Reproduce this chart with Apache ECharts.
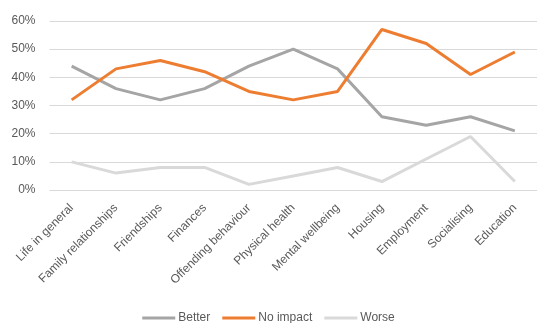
<!DOCTYPE html>
<html><head><meta charset="utf-8">
<script src="https://cdn.jsdelivr.net/npm/echarts@6/dist/echarts.min.js"></script>
<style>html,body{margin:0;padding:0;background:#fff}#c{width:537px;height:323px}</style>
</head><body><div id="c"></div>
<script>
const categories = ["Life in general","Family relationships","Friendships","Finances","Offending behaviour","Physical health","Mental wellbeing","Housing","Employment","Socialising","Education"];
const better   = [44,36,32,36,44,50,43,26,23,26,21];
const noImpact = [32,43,46,42,35,32,35,57,52,41,49];
const worse    = [10,6,8,8,2,5,8,3,11,19,3];
const yTicks = [0,10,20,30,40,50,60];

const font = "'Liberation Sans', 'Open Sans', sans-serif";
const chart = echarts.init(document.getElementById('c'));
chart.setOption({
  animation:false,
  grid:{left:49.5, right:-7.5, top:21, bottom:133},
  legend:{
    bottom:-6, left:'center',
    icon:'rect', itemWidth:33, itemHeight:3, itemGap:12,
    textStyle:{color:'#595959', fontSize:12, fontFamily:font, padding:[0,0,0,-2]},
    data:['Better','No impact','Worse']
  },
  xAxis:{
    type:'category', data:categories, boundaryGap:true,
    axisLine:{show:false}, axisTick:{show:false},
    axisLabel:{rotate:45, color:'#595959', fontSize:12, fontFamily:font, margin:16, interval:0}
  },
  yAxis:{
    type:'value', min:yTicks[0], max:yTicks[yTicks.length-1], interval:10,
    axisLabel:{formatter:'{value}%', color:'#595959', fontSize:12, fontFamily:font, margin:14},
    splitLine:{lineStyle:{color:'#d9d9d9', width:1}},
    axisLine:{show:false}, axisTick:{show:false}
  },
  series:[
    {name:'Better', type:'line', data:better, symbol:'none', lineStyle:{color:'#a5a5a5', width:3}, itemStyle:{color:'#a5a5a5'}},
    {name:'No impact', type:'line', data:noImpact, symbol:'none', lineStyle:{color:'#ed7d31', width:3}, itemStyle:{color:'#ed7d31'}},
    {name:'Worse', type:'line', data:worse, symbol:'none', lineStyle:{color:'#d9d9d9', width:3}, itemStyle:{color:'#d9d9d9'}}
  ]
});
</script></body></html>
